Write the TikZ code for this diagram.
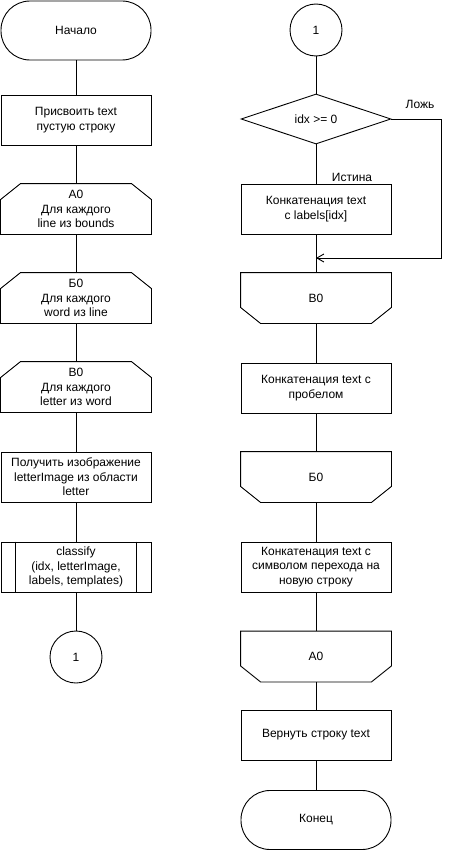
\documentclass[tikz,border=0pt]{standalone}
\usepackage{fontspec}
\setmainfont{Liberation Sans}
\usetikzlibrary{shapes.geometric,arrows.meta}
\newcommand{\loopbeg}[1]{\draw (#1.south west) -- ([yshift=-16pt]#1.north west) -- ([xshift=20pt]#1.north west) -- ([xshift=-20pt]#1.north east) -- ([yshift=-16pt]#1.north east) -- (#1.south east) -- cycle;}
\newcommand{\loopend}[1]{\draw (#1.north west) -- ([yshift=16pt]#1.south west) -- ([xshift=20pt]#1.south west) -- ([xshift=-20pt]#1.south east) -- ([yshift=16pt]#1.south east) -- (#1.north east) -- cycle;}

\begin{document}
\begin{tikzpicture}[x=1pt,y=-1pt,line width=0.9pt,
  every node/.style={font=\fontsize{12}{14.5}\selectfont,align=center,inner sep=0pt},
  term/.style={draw,rounded corners=29pt,minimum width=150,minimum height=59},
  proc/.style={draw,minimum width=150,minimum height=50},
  loopbox/.style={minimum width=150,minimum height=50},
  cond/.style={draw,diamond,aspect=3,minimum width=150,minimum height=50},
  conn/.style={draw,circle,minimum size=52}]
\useasboundingbox (0,0) rectangle (449,851);
\node[term] (start) at (76,30.5) {Начало};
\node[proc] (assign) at (76,120) {Присвоить text\\пустую строку};
\node[loopbox] (la0) at (76,209) {А0\\Для каждого\\line из bounds};
\node[loopbox] (lb0) at (76,298) {Б0\\Для каждого\\word из line};
\node[loopbox] (lv0) at (76,387) {В0\\Для каждого\\letter из word};
\node[proc] (getimg) at (76,477) {Получить изображение\\letterImage из области\\letter};
\node[proc] (classify) at (76,567) {classify\\(idx, letterImage,\\labels, templates)};
\node[conn] (c1a) at (76,657) {1};
\loopbeg{la0}
\loopbeg{lb0}
\loopbeg{lv0}
\draw ([xshift=15pt]classify.north west) -- ([xshift=15pt]classify.south west);
\draw ([xshift=-15pt]classify.north east) -- ([xshift=-15pt]classify.south east);
\draw (start) -- (assign);
\draw (assign) -- (la0);
\draw (la0) -- (lb0);
\draw (lb0) -- (lv0);
\draw (lv0) -- (getimg);
\draw (getimg) -- (classify);
\draw (classify) -- (c1a);

\node[conn] (c1b) at (316,30) {1};
\node[cond] (check) at (316,119) {idx >= 0};
\node[proc] (addlabel) at (316,209) {Конкатенация text\\с labels[idx]};
\node[loopbox] (ev0) at (316,298) {В0};
\node[proc] (addspace) at (316,388) {Конкатенация text с\\пробелом};
\node[loopbox] (eb0) at (316,477) {Б0};
\node[proc] (addnl) at (316,567) {Конкатенация text с\\символом перехода на\\новую строку};
\node[loopbox] (ea0) at (316,656.5) {А0};
\node[proc] (ret) at (316,735) {Вернуть строку text};
\node[term] (stop) at (316,820) {Конец};
\node (no) at (420,104) {Ложь};
\node (yes) at (352,177) {Истина};
\coordinate (join) at (316,258);
\loopend{ev0}
\loopend{eb0}
\loopend{ea0}
\draw (c1b) -- (check);
\draw (check) -- (addlabel);
\draw (addlabel) -- (ev0);
\draw[-{Straight Barb[length=7pt,width=8pt]}] (check.east) -- ++(50,0) |- (join);
\draw (ev0) -- (addspace);
\draw (addspace) -- (eb0);
\draw (eb0) -- (addnl);
\draw (addnl) -- (ea0);
\draw (ea0) -- (ret);
\draw (ret) -- (stop);
\end{tikzpicture}
\end{document}
